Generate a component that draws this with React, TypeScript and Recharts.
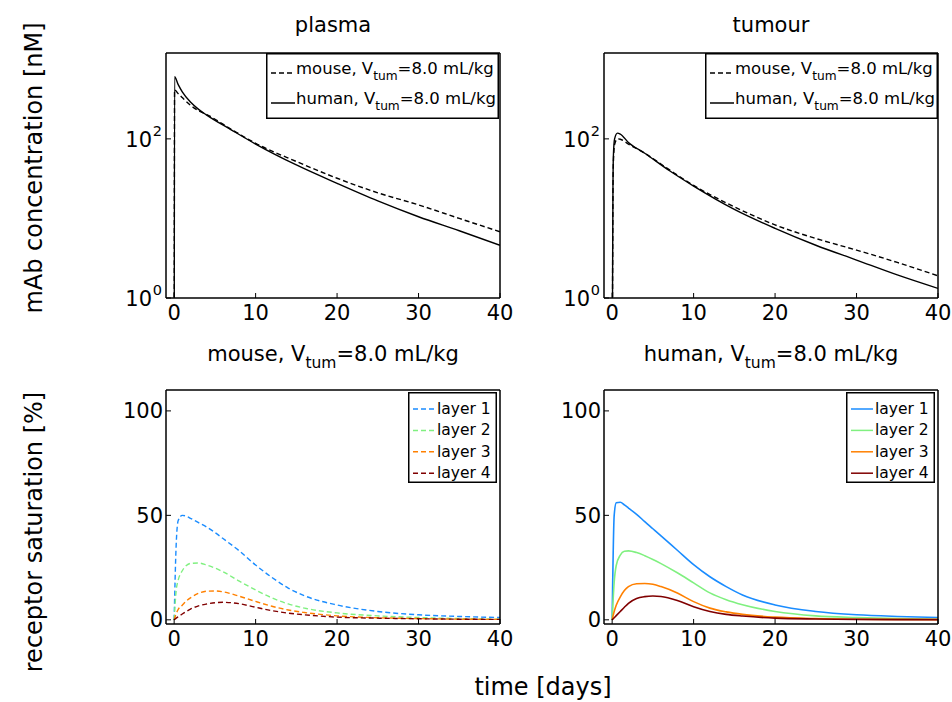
import React from 'react';
import { LineChart, Line, XAxis, YAxis, Legend } from 'recharts';

// ---------------- data ----------------
const timeTicks = [0, 10, 20, 30, 40];
const logTicks = [1, 100];
const satTicks = [0, 50, 100];

const panelTitles = ['plasma', 'tumour'];
const speciesNames = ['mouse', 'human'];
const vtumText = '=8.0 mL/kg';
const layerNames = ['layer 1', 'layer 2', 'layer 3', 'layer 4'];
const layerColors = ['#1a8cff', '#80f080', '#ff8000', '#800000'];

// plasma concentration [nM]
const plasmaTime = [0, 0.05, 0.5, 1, 2, 3, 4, 7, 10, 15, 20, 25, 30, 35, 40];
const plasmaMouse = [0.01, 413, 370, 330, 265, 225, 202, 132, 88, 52, 32, 21, 14.8, 10, 6.8];
const plasmaHuman = [0.01, 605, 480, 390, 290, 235, 199, 130, 86, 47, 27.6, 16.6, 10.5, 7.0, 4.6];

// tumour concentration [nM]
const tumourTime = [0, 0.05, 0.1, 0.15, 0.3, 0.65, 1, 2, 4, 7, 10, 15, 20, 25, 30, 35, 40];
const tumourMouse = [0.01, 1.2, 20, 50, 85, 100, 99, 86, 66, 41, 26, 14, 8.3, 5.6, 4.0, 2.8, 1.9];
const tumourHuman = [0.01, 1.5, 25, 60, 100, 118, 115, 90, 66, 40, 25.5, 13, 7.5, 4.6, 3.0, 1.95, 1.32];

// receptor saturation [%]
const satTime = [0, 0.25, 0.5, 1, 1.5, 2, 3, 4, 5, 6, 8, 10, 12, 14, 16, 20, 25, 30, 35, 40];
const mouseLayer1 = [0, 36, 47.5, 50, 49.6, 48.6, 46.5, 44.4, 41.8, 38.9, 33, 26.2, 20.3, 15.2, 11.5, 7.1, 4, 2.4, 1.6, 1.1];
const mouseLayer2 = [0, 14, 19, 23.5, 26, 27, 27.2, 26.2, 24.8, 23, 18.5, 14.3, 10.5, 7.6, 5.6, 3.3, 1.9, 1.1, 0.6, 0.3];
const mouseLayer3 = [0, 3, 5, 7, 9, 10.5, 12.7, 13.7, 13.8, 13.4, 11.3, 8.8, 6.5, 4.7, 3.5, 1.9, 1.0, 0.6, 0.3, 0.2];
const mouseLayer4 = [0, 0.8, 1.5, 2.8, 4, 5.1, 6.7, 7.6, 8.2, 8.4, 7.7, 6, 4.4, 3.2, 2.4, 1.3, 0.8, 0.5, 0.3, 0.2];
const humanLayer1 = [0, 50, 56, 56.3, 55, 53.5, 50.5, 47, 43.6, 40.2, 33.3, 26.4, 20.6, 15.9, 11.9, 7.1, 4, 2.4, 1.6, 1.1];
const humanLayer2 = [0, 18, 26, 31, 32.8, 33, 32.2, 30.7, 28.9, 26.9, 22.5, 17.7, 12.9, 9.6, 7.2, 4, 1.9, 1.1, 0.6, 0.3];
const humanLayer3 = [0, 4, 7, 11, 14, 15.9, 17.3, 17.4, 17, 15.9, 12.8, 8.7, 5.6, 3.8, 2.6, 1.3, 0.6, 0.3, 0.2, 0.1];
const humanLayer4 = [0, 1, 2, 4, 6, 7.9, 10.2, 11.1, 11.4, 11.2, 9.3, 6.3, 4, 2.6, 1.8, 0.8, 0.4, 0.2, 0.1, 0.1];

// ---------------- styling ----------------
const TEXT_FONT = '"DejaVu Sans", "Liberation Sans", sans-serif';
const LABEL_FONT = '"DejaVu Sans", sans-serif';
const TICK_FS = 21;
const YW = 60;
const XH = 40;
const MT = 10;
const MR = 25;

const speciesLabel = (name: string, fs: number) => (
  <>
    {name}, V
    <tspan dy={fs * 0.35} fontSize={fs * 0.74}>tum</tspan>
    <tspan dy={-fs * 0.35}>{vtumText}</tspan>
  </>
);

const LogTick = (props: any) => {
  const { x, y, payload } = props;
  const exp = Math.round(Math.log10(payload.value));
  return (
    <g>
      <text x={x - 11} y={y + 8} textAnchor="end" fontSize={TICK_FS} fontFamily={TEXT_FONT} fill="#000">10</text>
      <text x={x - 1} y={y - 3} textAnchor="end" fontSize={14.5} fontFamily={TEXT_FONT} fill="#000">{exp}</text>
    </g>
  );
};

type Entry = { label: React.ReactNode; color: string; dash?: string };
type Box = { left: number; top: number; w: number; h: number; first: number; step: number; sx1: number; sx2: number; tx: number; lineDy: number; fs: number };

const makeLegend = (box: Box, entries: Entry[]) => () => (
  <svg width={box.w} height={box.h} style={{ display: 'block' }}>
    <rect x={0.75} y={0.75} width={box.w - 1.5} height={box.h - 1.5} fill="#fff" stroke="#000" strokeWidth={1.5} />
    {entries.map((e, i) => {
      const by = box.first + i * box.step;
      return (
        <g key={i}>
          <line x1={box.sx1} x2={box.sx2} y1={by + box.lineDy} y2={by + box.lineDy} stroke={e.color} strokeWidth={1.5} strokeDasharray={e.dash} />
          <text x={box.tx} y={by} fontSize={box.fs} fontFamily={TEXT_FONT} fill="#000">{e.label}</text>
        </g>
      );
    })}
  </svg>
);

type Series = { key: string; values: number[]; color: string; dash?: string; width: number };

function Panel(props: {
  plotLeft: number; plotTop: number; plotW: number; plotH: number;
  times: number[]; series: Series[]; log: boolean; yDomain: number[]; yTicks: number[];
  legend: Box; entries: Entry[];
}) {
  const { plotLeft, plotTop, plotW, plotH, times, series, log, yDomain, yTicks, legend, entries } = props;
  const rows = times.map((t, i) => {
    const r: any = { t };
    series.forEach((s) => { r[s.key] = s.values[i]; });
    return r;
  });
  const chartW = YW + plotW + 1 + MR;
  const chartH = MT + 1 + plotH + XH;
  const axisLine = { stroke: '#000', strokeWidth: 1.5 };
  const tickLine = { stroke: '#000', strokeWidth: 1 };
  const yCommon: any = log
    ? { type: 'number', scale: 'log', domain: yDomain, ticks: yTicks, allowDataOverflow: true }
    : { type: 'number', domain: yDomain, ticks: yTicks, allowDataOverflow: true };
  return (
    <div style={{ position: 'absolute', left: plotLeft - YW, top: plotTop - MT - 1 }}>
      <LineChart width={chartW} height={chartH} data={rows} margin={{ top: MT, right: MR, bottom: 0, left: 0 }}>
        <XAxis xAxisId="b" type="number" dataKey="t" domain={[-1, 40]} ticks={timeTicks} allowDataOverflow
          orientation="bottom" height={XH} tickSize={-5} tickMargin={12} axisLine={axisLine} tickLine={tickLine}
          tick={{ fill: '#000', fontSize: TICK_FS, fontFamily: TEXT_FONT }} />
        <XAxis xAxisId="t" type="number" dataKey="t" domain={[-1, 40]} ticks={timeTicks} allowDataOverflow
          orientation="top" height={1} tickSize={-5} tick={false} axisLine={axisLine} tickLine={tickLine} />
        <YAxis yAxisId="l" {...yCommon} width={YW} tickSize={-5} tickMargin={8} axisLine={axisLine} tickLine={tickLine}
          tick={log ? <LogTick /> : { fill: '#000', fontSize: TICK_FS, fontFamily: TEXT_FONT }} />
        <YAxis yAxisId="r" {...yCommon} orientation="right" width={1} tickSize={-5} tick={false} axisLine={axisLine} tickLine={tickLine} />
        {series.map((s) => (
          <Line key={s.key} xAxisId="b" yAxisId="l" dataKey={s.key} type="monotone" stroke={s.color}
            strokeWidth={s.width} strokeDasharray={s.dash} dot={false} activeDot={false} isAnimationActive={false} />
        ))}
        <Legend layout="horizontal" verticalAlign="middle" align="center"
          wrapperStyle={{ left: legend.left - plotLeft + YW, top: legend.top - plotTop + MT + 1, width: legend.w, height: legend.h }}
          content={makeLegend(legend, entries)} />
      </LineChart>
    </div>
  );
}

const topBox = (left: number): Box => ({ left, top: 53, w: 233, h: 66, first: 21, step: 30, sx1: 5, sx2: 29, tx: 30, lineDy: -1, fs: 16.5 });
const botBox = (left: number): Box => ({ left, top: 392, w: 89, h: 91, first: 22, step: 21.4, sx1: 5, sx2: 27, tx: 29, lineDy: -5, fs: 15.5 });

export default function App() {
  const concEntries: Entry[] = [
    { label: speciesLabel(speciesNames[0], 16.5), color: '#000', dash: '5 3' },
    { label: speciesLabel(speciesNames[1], 16.5), color: '#000' },
  ];
  const mouseLayers = [mouseLayer1, mouseLayer2, mouseLayer3, mouseLayer4];
  const humanLayers = [humanLayer1, humanLayer2, humanLayer3, humanLayer4];
  const mouseEntries: Entry[] = layerNames.map((n, i) => ({ label: n, color: layerColors[i], dash: '5 3' }));
  const humanEntries: Entry[] = layerNames.map((n, i) => ({ label: n, color: layerColors[i] }));
  return (
    <div style={{ position: 'absolute', left: 0, top: 0, width: 952, height: 702, background: '#fff' }}>
      <Panel plotLeft={166} plotTop={53} plotW={334} plotH={245} times={plasmaTime} log yDomain={[1, 1200]} yTicks={logTicks}
        series={[
          { key: 'mouse', values: plasmaMouse, color: '#000', dash: '5 3', width: 1.4 },
          { key: 'human', values: plasmaHuman, color: '#000', width: 1.4 },
        ]}
        legend={topBox(266)} entries={concEntries} />
      <Panel plotLeft={604} plotTop={53} plotW={334} plotH={245} times={tumourTime} log yDomain={[1, 1200]} yTicks={logTicks}
        series={[
          { key: 'mouse', values: tumourMouse, color: '#000', dash: '5 3', width: 1.4 },
          { key: 'human', values: tumourHuman, color: '#000', width: 1.4 },
        ]}
        legend={topBox(705)} entries={concEntries} />
      <Panel plotLeft={166} plotTop={390} plotW={334} plotH={234} times={satTime} log={false} yDomain={[-2, 110]} yTicks={satTicks}
        series={mouseLayers.map((v, i) => ({ key: 'l' + i, values: v, color: layerColors[i], dash: '5 3', width: 1.4 }))}
        legend={botBox(408)} entries={mouseEntries} />
      <Panel plotLeft={604} plotTop={390} plotW={334} plotH={234} times={satTime} log={false} yDomain={[-2, 110]} yTicks={satTicks}
        series={humanLayers.map((v, i) => ({ key: 'l' + i, values: v, color: layerColors[i], width: 1.6 }))}
        legend={botBox(846)} entries={humanEntries} />
      <svg width={952} height={702} style={{ position: 'absolute', left: 0, top: 0, pointerEvents: 'none' }}>
        <text x={333} y={32} textAnchor="middle" fontSize={21} fontFamily={TEXT_FONT} fill="#000">{panelTitles[0]}</text>
        <text x={771} y={32} textAnchor="middle" fontSize={21} fontFamily={TEXT_FONT} fill="#000">{panelTitles[1]}</text>
        <text x={333} y={361} textAnchor="middle" fontSize={21} fontFamily={TEXT_FONT} fill="#000">{speciesLabel(speciesNames[0], 21)}</text>
        <text x={771} y={361} textAnchor="middle" fontSize={21} fontFamily={TEXT_FONT} fill="#000">{speciesLabel(speciesNames[1], 21)}</text>
        <text x={543} y={695} textAnchor="middle" fontSize={24} fontFamily={LABEL_FONT} fill="#000">time [days]</text>
        <text x={42} y={168} textAnchor="middle" fontSize={24} fontFamily={LABEL_FONT} fill="#000" transform="rotate(-90 42 168)">mAb concentration [nM]</text>
        <text x={42} y={532} textAnchor="middle" fontSize={24} fontFamily={LABEL_FONT} fill="#000" transform="rotate(-90 42 532)">receptor saturation [%]</text>
      </svg>
    </div>
  );
}
